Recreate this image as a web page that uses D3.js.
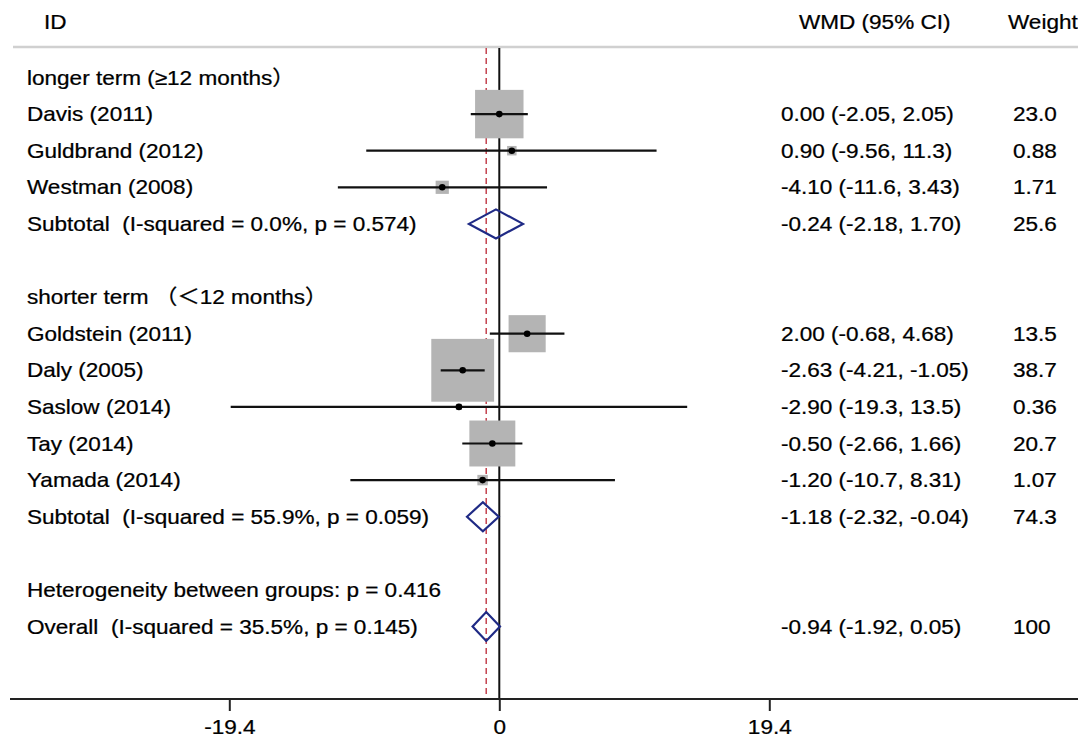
<!DOCTYPE html>
<html>
<head>
<meta charset="utf-8">
<script src="https://cdn.jsdelivr.net/npm/d3@7"></script>
<style>
  html, body { margin: 0; padding: 0; background: #fff; }
  svg { display: block; }
  text { font-family: "Liberation Sans", Arial, "Noto Sans CJK SC", sans-serif; fill: #000; white-space: pre; stroke: #000; stroke-width: 0.25px; }
</style>
</head>
<body>
<svg id="chart" width="1078" height="741"></svg>
<script>
// ---- data ----
const headers = ["ID", "WMD (95% CI)", "Weight"];
const groupLabels = ["longer term (\u226512 months\uff09", "shorter term \uff08\uff1c12 months\uff09"];
const groupRows = [0, 6];

const studyLabels = ["Davis (2011)", "Guldbrand (2012)", "Westman (2008)",
  "Goldstein (2011)", "Daly (2005)", "Saslow (2014)", "Tay (2014)", "Yamada (2014)"];
const studyRows = [1, 2, 3, 7, 8, 9, 10, 11];
const studyEst = [0.00, 0.90, -4.10, 2.00, -2.63, -2.90, -0.50, -1.20];
const studyLo  = [-2.05, -9.56, -11.6, -0.68, -4.21, -19.3, -2.66, -10.7];
const studyHi  = [2.05, 11.3, 3.43, 4.68, -1.05, 13.5, 1.66, 8.31];
const studyWeight = [23.0, 0.88, 1.71, 13.5, 38.7, 0.36, 20.7, 1.07];

const pooledLabels = ["Subtotal  (I-squared = 0.0%, p = 0.574)",
  "Subtotal  (I-squared = 55.9%, p = 0.059)",
  "Overall  (I-squared = 35.5%, p = 0.145)"];
const pooledRows = [4, 12, 15];
const pooledEst = [-0.24, -1.18, -0.94];
const pooledLo  = [-2.18, -2.32, -1.92];
const pooledHi  = [1.70, -0.04, 0.05];
const pooledWeight = [25.6, 74.3, 100];

const noteLabel = "Heterogeneity between groups: p = 0.416";
const noteRow = 14;

const tickValues = [-19.4, 0, 19.4];
const tickLabels = ["-19.4", "0", "19.4"];
const overallEst = -0.94;

// ---- layout ----
const W = 1078, H = 741;
const fs = 20.5, sx = 1.1;
const labelX = 27, estX = 781, wtX = 1013;
const headerY = 22, ruleY = 47, axisY = 699;

const svg = d3.select("#chart");
const x = d3.scaleLinear().domain([-19.4, 19.4]).range([229.3, 769.3]);
const y = d3.scaleLinear().domain([0, 15]).range([77.5, 626.5]);
const side = d3.scaleSqrt().domain([0, 100]).range([0, 101]);

const fmtCI = v => (Math.abs(v) >= 10 ? v.toFixed(1) : v.toFixed(2));
const fmtW = v => (v >= 100 ? v.toFixed(0) : v >= 10 ? v.toFixed(1) : v.toFixed(2));
const ciText = (e, l, h) => `${fmtCI(e)} (${fmtCI(l)}, ${fmtCI(h)})`;

function txt(s, tx, ty, anchor) {
  svg.append("text")
    .attr("transform", `translate(${tx},${ty}) scale(${sx},1)`)
    .attr("dy", "0.35em")
    .attr("xml:space", "preserve")
    .attr("text-anchor", anchor || "start")
    .style("font-size", fs + "px")
    .text(s);
}

// header
txt(headers[0], 44, headerY);
txt(headers[1], 799, headerY);
txt(headers[2], 1008, headerY);
svg.append("line").attr("x1", 13).attr("x2", W).attr("y1", ruleY).attr("y2", ruleY)
  .attr("stroke", "#d0d0d0").attr("stroke-width", 2.5);

// reference lines
svg.append("line").attr("x1", x(overallEst)).attr("x2", x(overallEst))
  .attr("y1", ruleY + 1).attr("y2", axisY)
  .attr("stroke", "#c4434f").attr("stroke-width", 1.5).attr("stroke-dasharray", "6,4");
svg.append("line").attr("x1", x(0)).attr("x2", x(0))
  .attr("y1", ruleY + 1).attr("y2", axisY)
  .attr("stroke", "#111").attr("stroke-width", 2);

// studies
const studies = studyLabels.map((l, i) => ({
  label: l, row: studyRows[i], est: studyEst[i], lo: studyLo[i], hi: studyHi[i], w: studyWeight[i]
}));
svg.selectAll("rect.box").data(studies).enter().append("rect")
  .attr("class", "box")
  .attr("x", d => x(d.est) - side(d.w) / 2)
  .attr("y", d => y(d.row) - side(d.w) / 2)
  .attr("width", d => side(d.w)).attr("height", d => side(d.w))
  .attr("fill", "#b4b4b4");
svg.selectAll("line.ci").data(studies).enter().append("line")
  .attr("class", "ci")
  .attr("x1", d => x(d.lo)).attr("x2", d => x(d.hi))
  .attr("y1", d => y(d.row)).attr("y2", d => y(d.row))
  .attr("stroke", "#111").attr("stroke-width", 2.2);
svg.selectAll("circle.pt").data(studies).enter().append("circle")
  .attr("class", "pt")
  .attr("cx", d => x(d.est)).attr("cy", d => y(d.row)).attr("r", 3.3)
  .attr("fill", "#000");

// pooled diamonds
const pooled = pooledLabels.map((l, i) => ({
  label: l, row: pooledRows[i], est: pooledEst[i], lo: pooledLo[i], hi: pooledHi[i], w: pooledWeight[i]
}));
const dh = 14.5;
svg.selectAll("path.dia").data(pooled).enter().append("path")
  .attr("class", "dia")
  .attr("d", d => {
    const cy = y(d.row);
    return `M${x(d.lo)},${cy} L${x(d.est)},${cy - dh} L${x(d.hi)},${cy} L${x(d.est)},${cy + dh} Z`;
  })
  .attr("fill", "none").attr("stroke", "#1f2a85").attr("stroke-width", 2.2)
  .attr("stroke-linejoin", "miter");

// text columns
groupLabels.forEach((g, i) => txt(g, labelX, y(groupRows[i])));
studies.forEach(d => {
  txt(d.label, labelX, y(d.row));
  txt(ciText(d.est, d.lo, d.hi), estX, y(d.row));
  txt(fmtW(d.w), wtX, y(d.row));
});
pooled.forEach(d => {
  txt(d.label, labelX, y(d.row));
  txt(ciText(d.est, d.lo, d.hi), estX, y(d.row));
  txt(fmtW(d.w), wtX, y(d.row));
});
txt(noteLabel, labelX, y(noteRow));

// axis
svg.append("line").attr("x1", 10).attr("x2", W).attr("y1", axisY).attr("y2", axisY)
  .attr("stroke", "#222").attr("stroke-width", 2.2);
const axis = d3.axisBottom(x).tickValues(tickValues)
  .tickFormat((d, i) => tickLabels[i]).tickSize(12).tickPadding(8);
const ag = svg.append("g").attr("transform", `translate(0,${axisY})`).call(axis);
ag.select(".domain").remove();
ag.selectAll(".tick line").attr("stroke", "#222").attr("stroke-width", 2);
ag.selectAll(".tick text")
  .attr("transform", `scale(${sx},1)`)
  .style("font-size", fs + "px")
  .style("font-family", "'Liberation Sans', Arial, sans-serif")
  .attr("fill", "#000");
</script>
</body>
</html>
